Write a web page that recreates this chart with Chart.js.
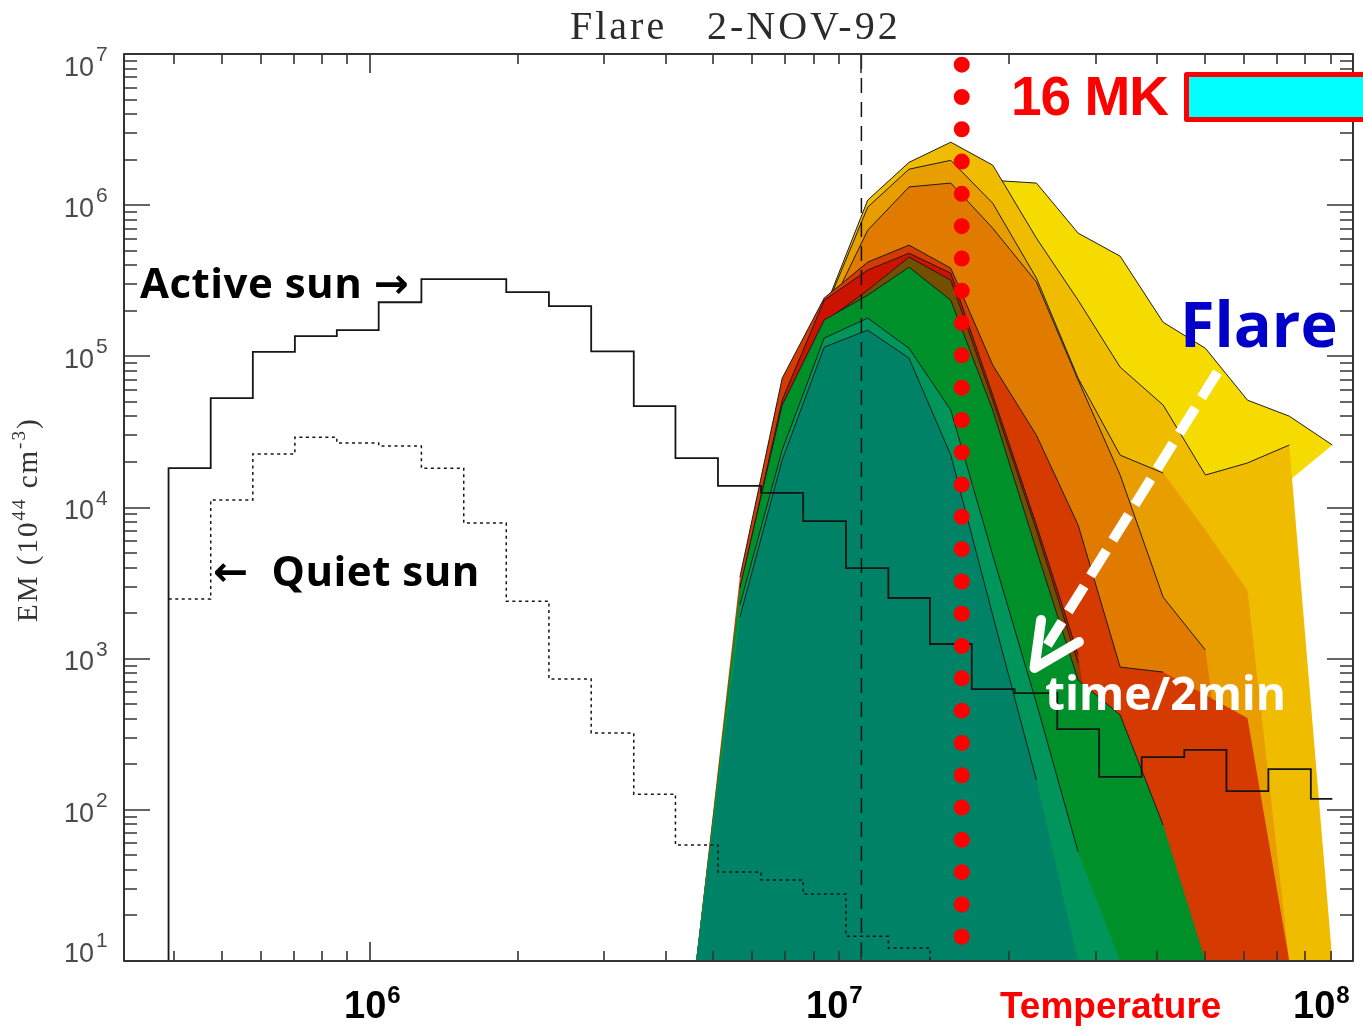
<!DOCTYPE html>
<html>
<head>
<meta charset="utf-8">
<title>Flare 2-NOV-92</title>
<script src="https://cdn.jsdelivr.net/npm/chart.js@4.4.1/dist/chart.umd.min.js"></script>
<style>
  html, body { margin: 0; padding: 0; background: #fff; }
  #box { position: relative; width: 1363px; height: 1031px; }
</style>
</head>
<body>
<div id="box"><canvas id="em"></canvas></div>
<script>
// temperature bin centres (K), first bin is empty
const tempK = [3.53e5, 4.30e5, 5.24e5, 6.38e5, 7.77e5, 9.45e5, 1.15e6, 1.41e6, 1.71e6, 2.10e6,
  2.55e6, 3.12e6, 3.80e6, 4.61e6, 5.66e6, 6.90e6, 8.40e6, 1.03e7, 1.25e7, 1.52e7,
  1.85e7, 2.27e7, 2.76e7, 3.36e7, 4.11e7, 5.01e7, 6.10e7, 7.42e7, 9.08e7];
const firstBinEdge = 3.90e5;

// emission measure, 10^44 cm^-3
const activeSun = [1, 1.82e4, 5.29e4, 1.07e5, 1.36e5, 1.49e5, 2.28e5, 3.24e5, 3.24e5, 2.66e5,
  2.15e5, 1.08e5, 4.68e4, 2.12e4, 1.39e4, 1.25e4, 8.13e3, 3.97e3, 2.52e3, 1.25e3,
  629, 592, 342, 165, 223, 249, 133, 186, 118];
const quietSun = [2.48e3, 1.12e4, 2.26e4, 2.92e4, 2.67e4, 2.55e4, 1.82e4, 7.89e3, 2.40e3, 733,
  322, 127, 58.5, 38.8, 34.3, 27.7, 14.6, 12.2, 1];

// flare snapshots on the hot part of the grid (4.6 MK upwards)
const flareT = tempK.slice(13);
const flareTeal = [10, 1.88e3, 2.06e4, 1.15e5, 1.49e5, 9.73e4, 2.22e4, 1.94e3, 157, 10];
const flareSea = [10, 2.26e3, 2.40e4, 1.32e5, 1.79e5, 1.13e5, 4.41e4, 4.84e3, 508, 52.6, 10];
const flareGreen = [10, 2.93e3, 4.76e4, 1.74e5, 2.54e5, 3.89e5, 2.35e5, 4.41e4, 5.23e3, 722, 424, 79.3, 10];
const flareOlive = [10, 2.63e3, 4.41e4, 1.68e5, 2.74e5, 4.53e5, 3.19e5, 5.13e4, 7.09e3, 935, 10];
const flareCrimson = [10, 2.84e3, 5.13e4, 2.35e5, 3.72e5, 4.81e5, 3.55e5, 5.54e4, 7.65e3, 1.06e3, 10];
const flareVermilion = [10, 3.46e3, 7.17e4, 2.43e5, 4.20e5, 5.44e5, 3.83e5, 8.75e4, 3.01e4, 7.65e3, 880, 815, 574, 405, 10];
const flareOrange = [10, 3.07e3, 6.75e4, 1.74e5, 6.83e5, 1.32e6, 1.40e6, 7.04e5, 3.10e5, 6.96e4, 1.64e4, 2.55e3, 1.14e3, 10];
const flareAmber = [10, 2.84e3, 6.45e4, 1.96e5, 9.70e5, 1.73e6, 1.98e6, 1.03e6, 3.29e5, 7.17e4, 2.22e4, 1.69e4, 7.09e3, 2.84e3, 10];
const flareGold = [10, 2.63e3, 5.98e4, 2.02e5, 1.08e6, 1.92e6, 2.61e6, 1.84e6, 6.05e5, 2.35e5, 8.48e4, 4.76e4, 1.64e4, 1.97e4, 2.59e4, 10];
const flareYellow = [8.72, 2.44e3, 5.13e4, 1.87e5, 7.72e5, 1.46e6, 1.92e6, 1.46e6, 1.40e6, 6.53e5, 4.60e5, 1.68e5, 1.13e5, 5.13e4, 4.02e4, 2.59e4];

const yDecades = [1, 2, 3, 4, 5, 6, 7];
const xDecades = [6, 7, 8];
const markT = 1.6e7;   // 16 MK

const FLOOR = 10;
const SERIF = '"Liberation Serif", "Times New Roman", serif';
const SANS = '"Liberation Sans", Arial, sans-serif';
const HAND = '"Open Sans", "DejaVu Sans", sans-serif';
const EDGE = '#1c1c1c';

const pts = (xs, ys) => ys.map((v, i) => ({ x: xs[i], y: v }));

// front to back
const layers = [
  { data: flareTeal, color: '#008266' },
  { data: flareSea, color: '#00955A' },
  { data: flareGreen, color: '#00902A' },
  { data: flareOlive, color: '#735000' },
  { data: flareCrimson, color: '#CC1200' },
  { data: flareVermilion, color: '#D53A00', edgeTo: 11 },
  { data: flareOrange, color: '#E07B00' },
  { data: flareAmber, color: '#E99E00', edgeTo: 11 },
  { data: flareGold, color: '#F0BC00' },
  { data: flareYellow, color: '#F6DB00', closed: true },
];

// black curve over the part of a snapshot that is on scale
function outlineSet(l) {
  const last = l.edgeTo ?? l.data.length - 1;
  return {
    data: pts(flareT, l.data).filter((p, i) => p.y > FLOOR && i <= last),
    borderColor: EDGE, borderWidth: 1, pointRadius: 0, fill: false
  };
}

function fillSet(l) {
  return {
    data: pts(flareT, l.data),
    backgroundColor: l.color,
    borderColor: l.color,
    borderWidth: 0,
    pointRadius: 0,
    fill: l.closed ? '+1' : 'start'
  };
}

const n = flareYellow.length - 1;
const datasets = [
  { // 16 MK marker
    data: [{ x: markT, y: 8.5e6 }, { x: markT, y: 5 }],
    borderColor: '#FF0000', borderWidth: 16, borderDash: [0, 32.3], borderCapStyle: 'round',
    pointRadius: 0, fill: false
  },
  {
    label: 'Active sun', data: pts(tempK, activeSun), stepped: 'middle',
    borderColor: '#151515', borderWidth: 1.8, pointRadius: 0, fill: false
  },
  {
    label: 'Quiet sun',
    data: [{ x: firstBinEdge, y: quietSun[0] }, ...pts(tempK.slice(1), quietSun)],
    stepped: 'middle',
    borderColor: '#151515', borderWidth: 1.5, borderDash: [3, 3.5], pointRadius: 0, fill: false
  },
  {
    data: [{ x: 1e7, y: 1e7 }, { x: 1e7, y: 10 }],
    borderColor: '#111', borderWidth: 1.5, borderDash: [15, 9], pointRadius: 0, fill: false
  },
  ...layers.flatMap(l => [outlineSet(l), fillSet(l)]),
  { // closing edge of the last polygon
    data: [{ x: flareT[0], y: flareYellow[0] }, { x: flareT[n], y: flareYellow[n] }],
    borderWidth: 0, borderColor: 'rgba(0,0,0,0)', pointRadius: 0, fill: false
  }
];

const arrow = {
  shaft: [[5.30e7, 7.86e4], [2.39e7, 1.23e3]],
  head: [[2.32e7, 1.80e3], [2.25e7, 867], [2.77e7, 1.29e3]]
};

function text(ctx, s, x, y, font, color, align = 'left', spacing = '0px') {
  ctx.font = font;
  ctx.fillStyle = color;
  ctx.textAlign = align;
  ctx.letterSpacing = spacing;
  ctx.fillText(s, x, y);
  ctx.letterSpacing = '0px';
}

const decor = {
  id: 'decor',
  afterDraw(chart) {
    const { ctx, chartArea: a, scales: { x, y } } = chart;
    const px = p => [x.getPixelForValue(p[0]), y.getPixelForValue(p[1])];
    ctx.save();
    ctx.textBaseline = 'alphabetic';

    // time arrow
    ctx.strokeStyle = '#fff';
    ctx.lineWidth = 10;
    ctx.setLineDash([30, 12]);
    ctx.beginPath();
    ctx.moveTo(...px(arrow.shaft[0]));
    ctx.lineTo(...px(arrow.shaft[1]));
    ctx.stroke();
    ctx.setLineDash([]);
    ctx.lineCap = 'round';
    ctx.lineJoin = 'round';
    ctx.beginPath();
    arrow.head.forEach((p, i) => i ? ctx.lineTo(...px(p)) : ctx.moveTo(...px(p)));
    ctx.stroke();

    // frame with inward ticks on all sides
    ctx.lineCap = 'butt';
    ctx.strokeStyle = '#333';
    ctx.lineWidth = 2;
    ctx.strokeRect(a.left, a.top, a.right - a.left, a.bottom - a.top);
    ctx.lineWidth = 1.6;
    ctx.beginPath();
    for (let e = 5; e <= 8; e++) {
      for (let m = 1; m <= 9; m++) {
        const v = m * 10 ** e;
        if (v <= x.min || v >= x.max) continue;
        const p = Math.round(x.getPixelForValue(v));
        const len = m === 1 ? 19 : 10;
        ctx.moveTo(p, a.bottom); ctx.lineTo(p, a.bottom - len);
        ctx.moveTo(p, a.top); ctx.lineTo(p, a.top + len);
      }
    }
    for (let e = 1; e <= 6; e++) {
      for (let m = 1; m <= 9; m++) {
        const p = Math.round(y.getPixelForValue(m * 10 ** e));
        const len = m === 1 ? 26 : 13;
        ctx.moveTo(a.left, p); ctx.lineTo(a.left + len, p);
        ctx.moveTo(a.right, p); ctx.lineTo(a.right - len, p);
      }
    }
    ctx.stroke();

    // y tick labels
    for (const e of yDecades) {
      const py = y.getPixelForValue(10 ** e);
      const mid = Math.min(Math.max(py + 2, a.top + 12), a.bottom - 9);
      text(ctx, '10', 94, mid + 9.7, `27px ${SANS}`, '#4a4a4a', 'right');
      text(ctx, String(e), 96, mid - 5, `21px ${SANS}`, '#4a4a4a');
    }

    // y axis title
    ctx.save();
    ctx.translate(37, 508);
    ctx.rotate(-Math.PI / 2);
    let u = -114;
    for (const [s, rise, size] of [['EM (10', 0, 29], ['44', -12, 19], [' cm', 0, 29], ['-3', -12, 19], [')', 0, 29]]) {
      text(ctx, s, u, rise, `${size}px ${SERIF}`, '#333', 'left', '2px');
      ctx.letterSpacing = '2px';
      u += ctx.measureText(s).width;
      ctx.letterSpacing = '0px';
    }
    ctx.restore();

    // title
    text(ctx, 'Flare', 570, 39, `40px ${SERIF}`, '#2b2b2b', 'left', '3px');
    text(ctx, '2-NOV-92', 707, 39, `40px ${SERIF}`, '#2b2b2b', 'left', '3px');

    // x labels
    const xLabelLeft = [344, 806, 1293];
    xDecades.forEach((e, i) => {
      text(ctx, '10', xLabelLeft[i], 1018, `bold 38px ${SANS}`, '#000');
      ctx.font = `bold 38px ${SANS}`;
      const w = ctx.measureText('10').width;
      text(ctx, String(e), xLabelLeft[i] + w + 1, 1003, `bold 24px ${SANS}`, '#000');
    });
    text(ctx, 'Temperature', 1000, 1018, `bold 37px ${SANS}`, '#FF0000');

    // 16 MK key
    ctx.fillStyle = '#00FFFF';
    ctx.fillRect(1186, 74, 300, 46);
    ctx.strokeStyle = '#FF0000';
    ctx.lineWidth = 5;
    ctx.strokeRect(1186.5, 74.5, 300, 45);
    text(ctx, '16 MK', 1011, 115, `bold 55px ${SANS}`, '#FF0000', 'left', '-1px');

    // notes
    text(ctx, 'Flare', 1180, 347, `bold 63px ${HAND}`, '#0000C8');
    text(ctx, 'Active sun \u2192', 140, 298, `bold 42px ${HAND}`, '#000', 'left', '0.5px');
    text(ctx, '\u2190  Quiet sun', 213, 586, `bold 42px ${HAND}`, '#000', 'left', '0.5px');
    text(ctx, 'time/2min', 1045, 710, `bold 46px ${HAND}`, '#fff');

    ctx.restore();
  }
};

new Chart(document.getElementById('em'), {
  type: 'line',
  data: { datasets },
  options: {
    responsive: true,
    maintainAspectRatio: false,
    devicePixelRatio: 1,
    animation: false,
    layout: { padding: { left: 124, top: 54, right: 10, bottom: 70 } },
    plugins: { legend: { display: false }, tooltip: { enabled: false }, title: { display: false } },
    elements: { line: { tension: 0 } },
    scales: {
      x: { type: 'logarithmic', min: 3.1623e5, max: 1e8, display: false },
      y: { type: 'logarithmic', min: 10, max: 1e7, display: false }
    }
  },
  plugins: [decor]
});
</script>
</body>
</html>
